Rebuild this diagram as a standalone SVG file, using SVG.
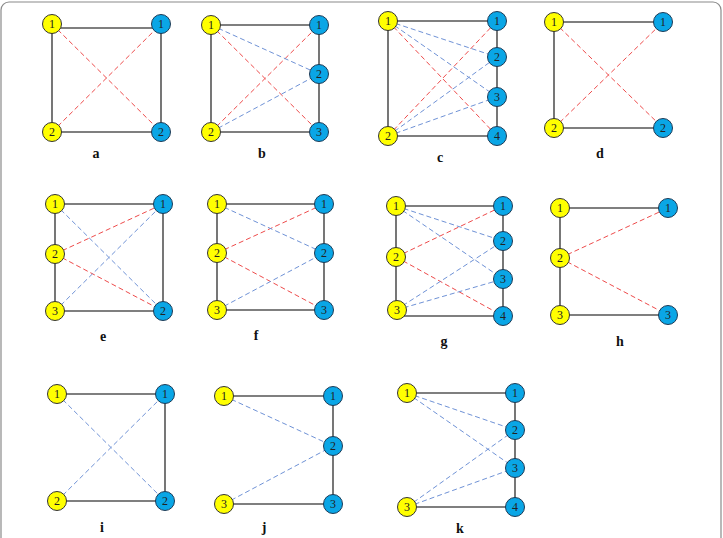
<svg xmlns="http://www.w3.org/2000/svg" width="723" height="538" viewBox="0 0 723 538">
<style>
.frame{fill:none;stroke:#8a8a8a;stroke-width:1.2}
.e{stroke:#555;stroke-width:1.6;fill:none}
.r{stroke:#ee4b4b;stroke-width:1;stroke-dasharray:5,3;fill:none}
.b{stroke:#6f92d6;stroke-width:1;stroke-dasharray:5,3;fill:none}
.y{fill:#ffff00;stroke:#333;stroke-width:1}
.c{fill:#0aa6e6;stroke:#1d3a55;stroke-width:1}
.n text{font-family:"Liberation Serif",serif;font-size:12px;fill:#222;text-anchor:middle;dominant-baseline:central}
.n text.lab{font-size:14px;font-weight:bold;fill:#111;dominant-baseline:auto}
</style>
<rect class="frame" x="1" y="2" width="720" height="560" rx="8"/>
<g id="connectors">
<path class="e" d="M52,28H160M52,24V132H161V24"/>
<path class="r" d="M52,24L161,132M52,132L161,24"/>
<path class="e" d="M211,25H319V132H211Z"/>
<path class="r" d="M211,25L319,132M211,132L319,25"/>
<path class="b" d="M211,25L319,74M211,132L319,74"/>
<path class="e" d="M388,21H497V136H388Z"/>
<path class="r" d="M388,21L497,136M388,136L497,21"/>
<path class="b" d="M388,21L497,57M388,21L497,97M388,136L497,57M388,136L497,97"/>
<path class="e" d="M663,22H554V128H663"/>
<path class="r" d="M554,22L663,128M554,128L663,22"/>
<path class="e" d="M55,204H163V311H55Z"/>
<path class="r" d="M55,254L163,204M55,254L163,311"/>
<path class="b" d="M55,204L163,311M55,311L163,204"/>
<path class="e" d="M217,204H324V310H217Z"/>
<path class="r" d="M217,253L324,204M217,253L324,310"/>
<path class="b" d="M217,204L324,253M217,310L324,253"/>
<path class="e" d="M396,206H503V316H396Z"/>
<path class="r" d="M396,257L503,206M396,257L503,316"/>
<path class="b" d="M396,206L503,241M396,206L503,279M396,310L503,241M396,310L503,279"/>
<path class="e" d="M668,208H560V315H668"/>
<path class="r" d="M560,258L668,208M560,258L668,315"/>
<path class="e" d="M57,394H165V501H57"/>
<path class="b" d="M57,394L165,501M57,501L165,394"/>
<path class="e" d="M224,396H333V504H224"/>
<path class="b" d="M224,396L333,446M224,504L333,446"/>
<path class="e" d="M407,393H515V507H407"/>
<path class="b" d="M407,393L515,430M407,393L515,468M407,507L515,430M407,507L515,468"/>
</g>
<g id="a" class="n">
<circle class="y" cx="52" cy="24" r="9.5"/><text x="52" y="24">1</text>
<circle class="c" cx="161" cy="24" r="9.5"/><text x="161" y="24">1</text>
<circle class="y" cx="52" cy="132" r="9.5"/><text x="52" y="132">2</text>
<circle class="c" cx="161" cy="132" r="9.5"/><text x="161" y="132">2</text>
<text class="lab" x="96" y="158">a</text>
</g>
<g id="b" class="n">
<circle class="y" cx="211" cy="25" r="9.5"/><text x="211" y="25">1</text>
<circle class="c" cx="319" cy="25" r="9.5"/><text x="319" y="25">1</text>
<circle class="c" cx="319" cy="74" r="9.5"/><text x="319" y="74">2</text>
<circle class="c" cx="319" cy="132" r="9.5"/><text x="319" y="132">3</text>
<circle class="y" cx="211" cy="132" r="9.5"/><text x="211" y="132">2</text>
<text class="lab" x="262" y="158">b</text>
</g>
<g id="c" class="n">
<circle class="y" cx="388" cy="21" r="9.5"/><text x="388" y="21">1</text>
<circle class="c" cx="497" cy="21" r="9.5"/><text x="497" y="21">1</text>
<circle class="c" cx="497" cy="57" r="9.5"/><text x="497" y="57">2</text>
<circle class="c" cx="497" cy="97" r="9.5"/><text x="497" y="97">3</text>
<circle class="c" cx="497" cy="136" r="9.5"/><text x="497" y="136">4</text>
<circle class="y" cx="388" cy="136" r="9.5"/><text x="388" y="136">2</text>
<text class="lab" x="440" y="162">c</text>
</g>
<g id="d" class="n">
<circle class="y" cx="554" cy="22" r="9.5"/><text x="554" y="22">1</text>
<circle class="c" cx="663" cy="22" r="9.5"/><text x="663" y="22">1</text>
<circle class="y" cx="554" cy="128" r="9.5"/><text x="554" y="128">2</text>
<circle class="c" cx="663" cy="128" r="9.5"/><text x="663" y="128">2</text>
<text class="lab" x="600" y="158">d</text>
</g>
<g id="e" class="n">
<circle class="y" cx="55" cy="204" r="9.5"/><text x="55" y="204">1</text>
<circle class="y" cx="55" cy="254" r="9.5"/><text x="55" y="254">2</text>
<circle class="y" cx="55" cy="311" r="9.5"/><text x="55" y="311">3</text>
<circle class="c" cx="163" cy="204" r="9.5"/><text x="163" y="204">1</text>
<circle class="c" cx="163" cy="311" r="9.5"/><text x="163" y="311">2</text>
<text class="lab" x="103" y="341">e</text>
</g>
<g id="f" class="n">
<circle class="y" cx="217" cy="204" r="9.5"/><text x="217" y="204">1</text>
<circle class="y" cx="217" cy="253" r="9.5"/><text x="217" y="253">2</text>
<circle class="y" cx="217" cy="310" r="9.5"/><text x="217" y="310">3</text>
<circle class="c" cx="324" cy="204" r="9.5"/><text x="324" y="204">1</text>
<circle class="c" cx="324" cy="253" r="9.5"/><text x="324" y="253">2</text>
<circle class="c" cx="324" cy="310" r="9.5"/><text x="324" y="310">3</text>
<text class="lab" x="256" y="340">f</text>
</g>
<g id="g" class="n">
<circle class="y" cx="396" cy="206" r="9.5"/><text x="396" y="206">1</text>
<circle class="y" cx="396" cy="257" r="9.5"/><text x="396" y="257">2</text>
<circle class="y" cx="397" cy="310" r="9.5"/><text x="397" y="310">3</text>
<circle class="c" cx="503" cy="206" r="9.5"/><text x="503" y="206">1</text>
<circle class="c" cx="503" cy="241" r="9.5"/><text x="503" y="241">2</text>
<circle class="c" cx="503" cy="279" r="9.5"/><text x="503" y="279">3</text>
<circle class="c" cx="503" cy="316" r="9.5"/><text x="503" y="316">4</text>
<text class="lab" x="444" y="346">g</text>
</g>
<g id="h" class="n">
<circle class="y" cx="560" cy="208" r="9.5"/><text x="560" y="208">1</text>
<circle class="y" cx="560" cy="258" r="9.5"/><text x="560" y="258">2</text>
<circle class="y" cx="560" cy="315" r="9.5"/><text x="560" y="315">3</text>
<circle class="c" cx="668" cy="208" r="9.5"/><text x="668" y="208">1</text>
<circle class="c" cx="668" cy="315" r="9.5"/><text x="668" y="315">3</text>
<text class="lab" x="620" y="346">h</text>
</g>
<g id="i" class="n">
<circle class="y" cx="57" cy="394" r="9.5"/><text x="57" y="394">1</text>
<circle class="c" cx="165" cy="394" r="9.5"/><text x="165" y="394">1</text>
<circle class="y" cx="57" cy="501" r="9.5"/><text x="57" y="501">2</text>
<circle class="c" cx="165" cy="501" r="9.5"/><text x="165" y="501">2</text>
<text class="lab" x="102" y="532">i</text>
</g>
<g id="j" class="n">
<circle class="y" cx="224" cy="396" r="9.5"/><text x="224" y="396">1</text>
<circle class="c" cx="333" cy="396" r="9.5"/><text x="333" y="396">1</text>
<circle class="c" cx="333" cy="446" r="9.5"/><text x="333" y="446">2</text>
<circle class="c" cx="333" cy="504" r="9.5"/><text x="333" y="504">3</text>
<circle class="y" cx="224" cy="504" r="9.5"/><text x="224" y="504">3</text>
<text class="lab" x="264" y="532">j</text>
</g>
<g id="k" class="n">
<circle class="y" cx="407" cy="393" r="9.5"/><text x="407" y="393">1</text>
<circle class="c" cx="515" cy="393" r="9.5"/><text x="515" y="393">1</text>
<circle class="c" cx="515" cy="430" r="9.5"/><text x="515" y="430">2</text>
<circle class="c" cx="515" cy="468" r="9.5"/><text x="515" y="468">3</text>
<circle class="c" cx="515" cy="507" r="9.5"/><text x="515" y="507">4</text>
<circle class="y" cx="407" cy="507" r="9.5"/><text x="407" y="507">3</text>
<text class="lab" x="460" y="533">k</text>
</g>
</svg>
